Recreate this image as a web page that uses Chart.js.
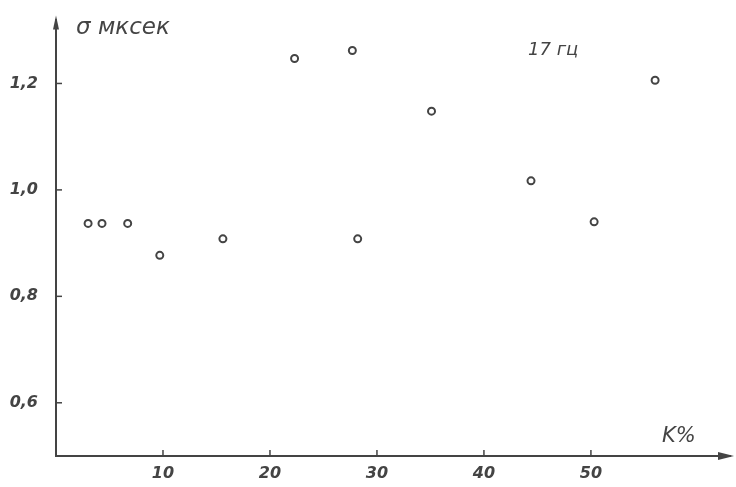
<!DOCTYPE html>
<html>
<head>
<meta charset="utf-8">
<script src="https://cdn.jsdelivr.net/npm/chart.js@4"></script>
<style>
    html, body { margin: 0; padding: 0; background: #fff; }
    #wrap { width: 736px; height: 487px; }
</style>
</head>
<body>
<div id="wrap"><canvas id="chart" width="736" height="487"></canvas></div>
<script>
// K, %
const kValues = [3.0, 4.3, 6.7, 9.7, 15.6, 22.3, 27.7, 28.2, 35.1, 44.4, 50.3, 56.0];
// sigma, мксек
const sigmaValues = [0.937, 0.937, 0.937, 0.877, 0.908, 1.247, 1.262, 0.908, 1.148, 1.017, 0.94, 1.206];
const xTicks = [10, 20, 30, 40, 50];
const yTicks = [0.6, 0.8, 1.0, 1.2];

const ink = "#444";
const labelFont = { family: "DejaVu Sans", size: 16, style: "italic", weight: "bold" };

// arrows, inner tick marks and hand-written captions
const sketchPlugin = {
    id: "sketch",
    afterDraw(chart) {
        const ctx = chart.ctx;
        const area = chart.chartArea;
        const xs = chart.scales.x;
        const ys = chart.scales.y;
        ctx.save();
        ctx.strokeStyle = ink;
        ctx.fillStyle = ink;
        ctx.lineWidth = 1.5;

        xTicks.forEach((v) => {
            const px = xs.getPixelForValue(v);
            ctx.beginPath();
            ctx.moveTo(px, area.bottom);
            ctx.lineTo(px, area.bottom - 6);
            ctx.stroke();
        });
        yTicks.forEach((v) => {
            const py = ys.getPixelForValue(v);
            ctx.beginPath();
            ctx.moveTo(area.left, py);
            ctx.lineTo(area.left + 6, py);
            ctx.stroke();
        });

        // arrow heads
        ctx.beginPath();
        ctx.moveTo(area.right + 4, area.bottom);
        ctx.lineTo(area.right - 12, area.bottom - 4);
        ctx.lineTo(area.right - 12, area.bottom + 4);
        ctx.closePath();
        ctx.fill();
        ctx.beginPath();
        ctx.moveTo(area.left, area.top - 4);
        ctx.lineTo(area.left - 3, area.top + 10);
        ctx.lineTo(area.left + 3, area.top + 10);
        ctx.closePath();
        ctx.fill();

        ctx.textBaseline = "middle";
        ctx.textAlign = "left";
        ctx.font = "italic 23px 'DejaVu Sans'";
        ctx.fillText("σ мксек", 76, 28);
        ctx.font = "italic 18px 'DejaVu Sans'";
        ctx.fillText("17 гц", 528, 50);
        ctx.font = "italic 21px 'DejaVu Sans'";
        ctx.fillText("K%", 662, 437);
        ctx.restore();
    },
};

new Chart(document.getElementById("chart"), {
    type: "scatter",
    data: {
        datasets: [
            {
                data: kValues.map((k, i) => ({ x: k, y: sigmaValues[i] })),
                pointStyle: "circle",
                pointRadius: 3.5,
                pointBorderWidth: 2,
                pointBackgroundColor: "#fff",
                pointBorderColor: ink,
            },
        ],
    },
    options: {
        responsive: false,
        animation: false,
        layout: { padding: { left: 0, right: 6, top: 13, bottom: 0 } },
        plugins: {
            legend: { display: false },
            tooltip: { enabled: false },
        },
        scales: {
            x: {
                type: "linear",
                min: 0,
                max: 63,
                afterBuildTicks: (scale) => {
                    scale.ticks = xTicks.map((v) => ({ value: v }));
                },
                afterFit: (scale) => {
                    scale.height = 31;
                },
                grid: { display: false },
                border: { display: true, color: ink, width: 2 },
                ticks: { color: ink, font: labelFont, padding: 0, maxRotation: 0 },
            },
            y: {
                type: "linear",
                min: 0.5,
                max: 1.32,
                afterBuildTicks: (scale) => {
                    scale.ticks = yTicks.map((v) => ({ value: v }));
                },
                afterFit: (scale) => {
                    scale.width = 56;
                },
                grid: { display: false },
                border: { display: true, color: ink, width: 2 },
                ticks: {
                    color: ink,
                    font: labelFont,
                    padding: 10,
                    callback: (v) => v.toFixed(1).replace(".", ","),
                },
            },
        },
    },
    plugins: [sketchPlugin],
});
</script>
</body>
</html>
